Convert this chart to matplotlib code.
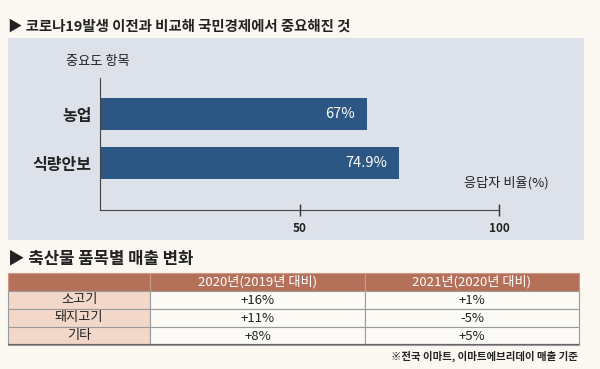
import matplotlib
matplotlib.use("Agg")
import matplotlib.pyplot as plt

plt.rcParams['font.family'] = ['Noto Sans CJK KR', 'DejaVu Sans']

# 데이터
항목 = ["농업", "식량안보"]
비율 = [67, 74.9]
비율_라벨 = ["67%", "74.9%"]

품목 = ["소고기", "돼지고기", "기타"]
헤더 = ["", "2020년(2019년 대비)", "2021년(2020년 대비)"]
변화_2020 = ["+16%", "+11%", "+8%"]
변화_2021 = ["+1%", "-5%", "+5%"]

W, H = 600, 369
bg = "#fbf8f1"
panel_c = "#dde1e9"
bar_c = "#2c5683"
brown = "#b5705a"
pink = "#f3d8ca"
dark = "#222222"

fig = plt.figure(figsize=(6, 3.69), dpi=100, facecolor=bg)


def px(x0, y0, x1, y1):
    # 픽셀 좌표 -> figure 비율
    return [x0 / W, 1 - y1 / H, (x1 - x0) / W, (y1 - y0) / H]


# 배경 패널
pan = fig.add_axes(px(8, 38, 584, 240))
pan.set_facecolor(panel_c)
pan.set_xticks([])
pan.set_yticks([])
for s in pan.spines.values():
    s.set_visible(False)

fig.text(8 / W, 1 - 27 / H, "▶ 코로나19발생 이전과 비교해 국민경제에서 중요해진 것",
         fontsize=10.4, fontweight="bold", color=dark, va="center")

# 막대 차트
ax = fig.add_axes(px(100, 78, 499, 210))
ax.set_facecolor("none")
pos = list(range(len(항목)))
bars = ax.barh(pos, 비율, height=0.65, color=bar_c)
for b, t in zip(bars, 비율_라벨):
    ax.text(b.get_width() - 3, b.get_y() + b.get_height() / 2, t,
            color="white", fontsize=10.5, ha="right", va="center")
ax.set_xlim(0, 100)
ax.set_ylim(1.959, -0.735)
ax.set_yticks(pos)
ax.set_yticklabels(항목, fontsize=11.5, fontweight="bold", color=dark)
ax.tick_params(axis="y", length=0, pad=6)
ax.set_xticks([50, 100])
ax.set_xticklabels(["50", "100"], fontsize=8.5, fontweight="bold", color=dark)
ax.tick_params(axis="x", direction="inout", length=9, width=1, color="#333333", pad=4)
for s in ["top", "right"]:
    ax.spines[s].set_visible(False)
ax.spines["left"].set_color("#444444")
ax.spines["bottom"].set_color("#444444")

fig.text(98 / W, 1 - 62 / H, "중요도 항목", fontsize=9.5, color=dark,
         ha="center", va="center")
fig.text(506 / W, 1 - 183 / H, "응답자 비율(%)", fontsize=9.5, color=dark,
         ha="center", va="center")

# 표
fig.text(8 / W, 1 - 258 / H, "▶ 축산물 품목별 매출 변화",
         fontsize=12, fontweight="bold", color=dark, va="center")

tax = fig.add_axes(px(8, 273, 579, 345))
tax.axis("off")
cells = [[p, a, b] for p, a, b in zip(품목, 변화_2020, 변화_2021)]
tbl = tax.table(cellText=cells, colLabels=헤더, bbox=[0, 0, 1, 1],
                colWidths=[142, 215, 214], cellLoc="center")
tbl.auto_set_font_size(False)
for (r, c), cell in tbl.get_celld().items():
    cell.set_linewidth(0.8)
    cell.get_text().set_fontsize(9.5)
    if r == 0:
        cell.set_facecolor(brown)
        cell.set_edgecolor("#c99a88")
        cell.get_text().set_color("white")
    else:
        cell.set_facecolor(pink if c == 0 else "#fcfaf5")
        cell.set_edgecolor("#9a9a9a")
        cell.get_text().set_color(dark)
tax.axhline(0, color="#666666", lw=1.6)

fig.text(578 / W, 1 - 356 / H, "※전국 이마트, 이마트에브리데이 매출 기준",
         fontsize=7.5, fontweight="bold", color=dark, ha="right", va="center")

fig.savefig("out.png", dpi=100, facecolor=bg)
